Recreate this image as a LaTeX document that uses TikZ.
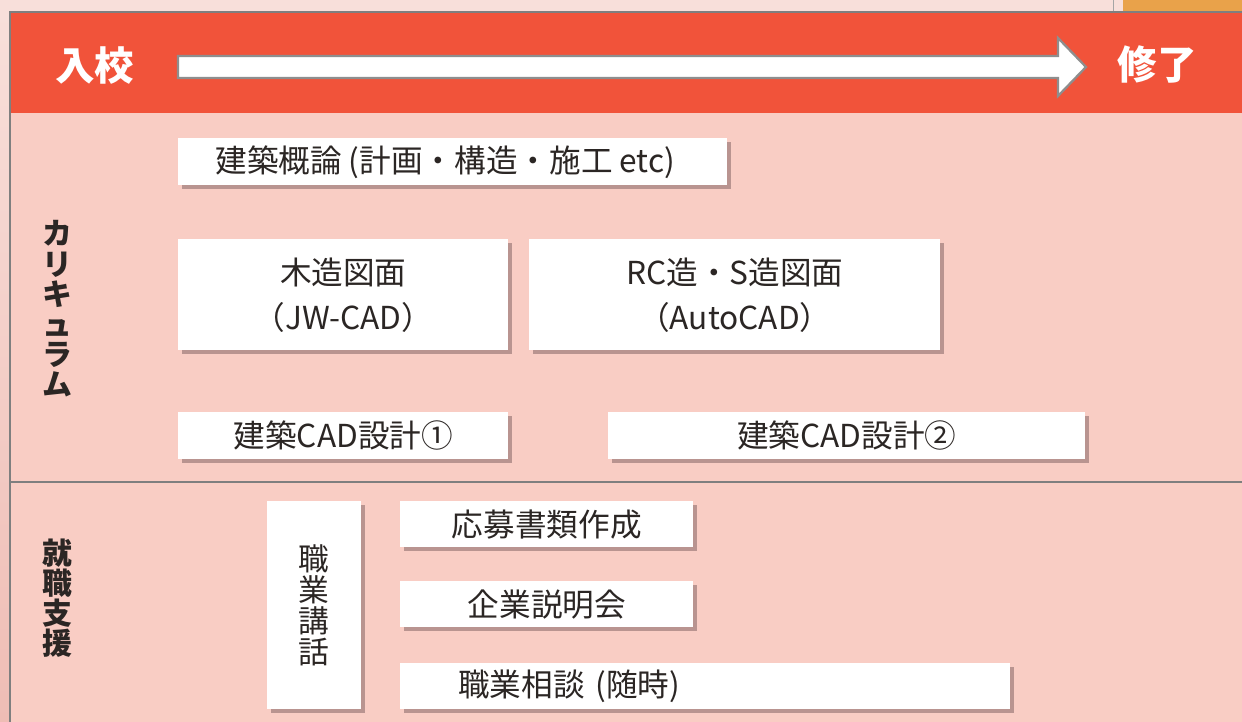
\documentclass[tikz,border=0pt]{standalone}
\usepackage{fontspec}
\setmainfont{Noto Sans CJK JP}
\usepackage{tikz}
\usetikzlibrary{shadows,positioning}
\definecolor{outerpink}{HTML}{F8DFDA}
\definecolor{edgepink}{HTML}{EFBDB5}
\definecolor{bodypink}{HTML}{F9CDC4}
\definecolor{headred}{HTML}{F1533A}
\definecolor{bordergray}{HTML}{7F7F7F}
\definecolor{arrowgray}{HTML}{8E8E8E}
\definecolor{shadowpink}{HTML}{B99490}
\definecolor{taborange}{HTML}{E9A24A}
\definecolor{textdark}{HTML}{2B2624}

\begin{document}
\begin{tikzpicture}[x=0.02cm, y=-0.02cm,
    box/.style={fill=white, inner sep=0pt, anchor=north west, align=center,
      text=textdark, font=\fontsize{18}{25.5}\selectfont,
      copy shadow={fill=shadowpink, draw=none, shadow xshift=0.07cm, shadow yshift=-0.07cm}},
    headtext/.style={text=white, font=\bfseries\fontsize{22.5}{24}\selectfont},
    sidelabel/.style={text=textdark, align=center, font=\bfseries\fontsize{17}{17.2}\selectfont}]
   \useasboundingbox (0,0) rectangle (1242,722);
   % page around the panel
   \fill[outerpink] (0,0) rectangle (1242,722);
   \shade[top color=outerpink, bottom color=edgepink] (0,12) rectangle (10,722);
   \fill[taborange] (1123,0) rectangle (1242,12);
   \draw[bordergray!70, line width=0.02cm] (1113,0) -- (1113,12);
   % panel
   \fill[bodypink] (10,12) rectangle (1242,722);
   \fill[headred] (10,12) rectangle (1242,113);
   \draw[bordergray, line width=0.05cm] (10,722) -- (10,12) -- (1242,12);
   \draw[bordergray, line width=0.05cm] (10,482) -- (1242,482);
   % header
   \node[headtext] (enter) at (95,66) {入校};
   \node[headtext] (finish) at (1157,64) {修了};
   \filldraw[fill=white, draw=arrowgray, line width=0.045cm]
     (178,56) -- (1058,56) -- (1058,38) -- (1086,67) -- (1058,96) -- (1058,78) -- (178,78) -- cycle;
   % side labels
   \node[sidelabel] (curric) at (57,309) {カ\\リ\\キ\\ュ\\ラ\\ム};
   \node[sidelabel] (support) at (57,598) {就\\職\\支\\援};
   % curriculum
   \node[box, minimum width=10.98cm, minimum height=0.94cm] (theory) at (178,138)
     {建築概論 (計画・構造・施工 etc)\hspace*{0.3cm}};
   \node[box, minimum width=6.6cm, minimum height=2.22cm] (wood) at (178,239)
     {木造図面\\（JW-CAD）};
   \node[box, minimum width=8.22cm, minimum height=2.22cm] (steel) at (529,239)
     {RC造・S造図面\\（AutoCAD）};
   \node[box, minimum width=6.6cm, minimum height=0.94cm] (cadone) at (178,412)
     {建築CAD設計①};
   \node[box, minimum width=9.54cm, minimum height=0.94cm] (cadtwo) at (608,412)
     {建築CAD設計②};
   % job support
   \node[box, minimum width=1.88cm, minimum height=4.16cm,
     font=\fontsize{17.5}{17.6}\selectfont] (talk) at (267,501) {職\\業\\講\\話};
   \node[box, minimum width=5.86cm, minimum height=0.92cm] (apply) at (400,501) {応募書類作成};
   \node[box, minimum width=5.86cm, minimum height=0.92cm] (briefing) at (400,581) {企業説明会};
   \node[box, align=left, minimum height=0.92cm, inner xsep=1.16cm, text width=9.88cm]
     (consult) at (400,663) {職業相談 (随時)};
\end{tikzpicture}
\end{document}
